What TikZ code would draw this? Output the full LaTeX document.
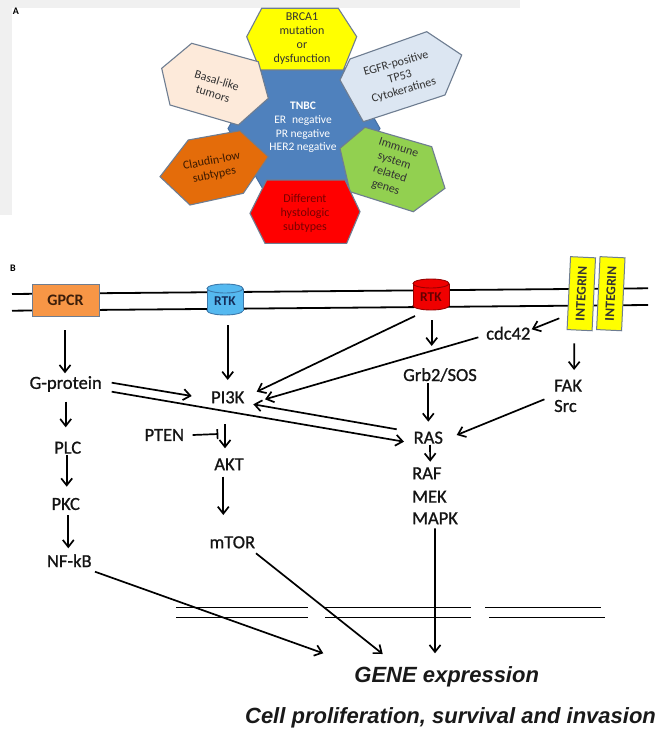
\documentclass[tikz,border=0pt]{standalone}
\usepackage{fontspec}
\setmainfont{Carlito}
\newfontfamily\labfont{Carlito}[FakeBold=0.9]
\newfontfamily\arialf{Liberation Sans}
\usetikzlibrary{arrows.meta,calc}
\definecolor{bandgray}{RGB}{240,240,240}
\definecolor{tnbcblue}{RGB}{79,129,189}
\definecolor{tnbcborder}{RGB}{70,110,160}
\definecolor{hexborder}{RGB}{110,125,145}
\definecolor{yellowhex}{RGB}{255,255,0}
\definecolor{peach}{RGB}{253,234,218}
\definecolor{egfrblue}{RGB}{220,230,242}
\definecolor{claudorange}{RGB}{228,108,10}
\definecolor{immgreen}{RGB}{146,208,80}
\definecolor{histred}{RGB}{255,0,0}
\definecolor{txtdark}{RGB}{50,50,50}
\definecolor{claudtext}{RGB}{60,25,0}
\definecolor{redtext}{RGB}{120,0,0}
\definecolor{gpcrorange}{RGB}{247,150,70}
\definecolor{boxborder}{RGB}{110,125,145}
\definecolor{gpcrtext}{RGB}{60,30,10}
\definecolor{rtkblue}{RGB}{85,185,240}
\definecolor{rtkblueborder}{RGB}{60,120,170}
\definecolor{rtkbluetext}{RGB}{20,45,90}
\definecolor{rtkred}{RGB}{240,0,0}
\definecolor{rtkredborder}{RGB}{150,0,0}
\definecolor{rtkredtext}{RGB}{100,0,0}
\definecolor{integyellow}{RGB}{255,255,0}
\begin{document}
\begin{tikzpicture}[x=1pt,y=-1pt,
  lbl/.style={font=\labfont\fontsize{18.5}{20}\selectfont, text=black!92, inner sep=0pt},
  arr/.style={line width=1.7pt, -{Straight Barb[length=7pt,width=11pt]}},
  inhib/.style={line width=1.7pt, -{Bar[width=10pt]}},
  memb/.style={line width=1.8pt},
  nucl/.style={line width=1.6pt},
  hexa/.style={draw=hexborder, line width=1.1pt},
  ptxt/.style={font=\fontsize{12}{14}\selectfont, align=center, text=txtdark, inner sep=0pt},
  panlbl/.style={font=\bfseries\fontsize{10}{10}\selectfont, inner sep=0pt},
  integ/.style={draw=boxborder, fill=integyellow, line width=1pt, rotate=87.3,
    minimum width=73pt, minimum height=25pt, inner sep=0pt,
    font=\bfseries\fontsize{13.5}{13.5}\selectfont, text=black!80},
  cylbox/.style={minimum width=36pt, minimum height=24pt, inner sep=0pt,
    font=\bfseries\fontsize{13.5}{13.5}\selectfont},
  big/.style={font=\arialf\bfseries\itshape\fontsize{22}{22}\selectfont, inner sep=0pt, text=black!90},
]
\useasboundingbox (0,0) rectangle (660,733);
\fill[white] (0,0) rectangle (660,733);
\fill[bandgray] (0,0) rectangle (520,8);
\fill[bandgray] (0,0) rectangle (12,215);

% ---------------- Panel A ----------------
\node[panlbl] (labA) at (16,11) {A};
\filldraw[fill=tnbcblue, draw=tnbcborder, line width=1pt]
  (380,128.5) -- (342,62.7) -- (266,62.7) -- (228,128.5) -- (266,194.3) -- (342,194.3) -- cycle;
% yellow
\filldraw[hexa, fill=yellowhex]
  (246.7,36.7) -- (261.7,8.3) -- (338.3,8.3) -- (356.7,36.7) -- (343.3,70) -- (260,70) -- cycle;
% peach
\filldraw[hexa, fill=peach]
  (161.7,68.3) -- (191.7,43.3) -- (258.3,61.7) -- (268.3,98.3) -- (238.3,125) -- (170,105) -- cycle;
% egfr
\filldraw[hexa, fill=egfrblue]
  (340,80) -- (350,59) -- (426.7,31.7) -- (461.7,55) -- (445,95) -- (363.3,121.7) -- cycle;
% claudin
\filldraw[hexa, fill=claudorange]
  (160,176.7) -- (188.3,140) -- (240,130.7) -- (268.3,156.7) -- (243.3,193.3) -- (190,205) -- cycle;
% immune
\filldraw[hexa, fill=immgreen]
  (340,148.3) -- (365,127.3) -- (431.7,146.7) -- (445,188.3) -- (413.3,211.7) -- (350,191.7) -- cycle;
% red
\filldraw[hexa, fill=histred]
  (250,213.3) -- (266.7,180) -- (345,180) -- (360,211.7) -- (346.7,243.3) -- (265,243.3) -- cycle;

\node[ptxt, text=white, font=\fontsize{11.5}{13.7}\selectfont] (tnbc) at (303,127.5)
  {\textbf{TNBC}\\ER\hspace{0.3em} negative\\PR negative\\HER2 negative};
\node[ptxt] (brca) at (302,38.5) {BRCA1\\mutation\\or\\dysfunction};
\node[ptxt, rotate=-17] (basal) at (215,87) {Basal-like\\tumors};
\node[ptxt, rotate=16] (egfr) at (400,77) {EGFR-positive\\TP53\\Cytokeratines};
\node[ptxt, rotate=11, text=claudtext] (claud) at (213,168) {Claudin-low\\subtypes};
\node[ptxt, rotate=-18] (immune) at (392,168) {Immune\\system\\related\\genes};
\node[ptxt, text=redtext] (hist) at (305,213) {Different\\hystologic\\subtypes};

% ---------------- Panel B ----------------
\node[panlbl] (labB) at (13,268) {B};
\draw[memb] (12,294) -- (648,288.3);
\draw[memb] (12,310.7) -- (648,305);

\node[draw=boxborder, fill=gpcrorange, line width=1pt, minimum width=67pt, minimum height=32pt,
  inner sep=0pt, font=\bfseries\fontsize{16}{16}\selectfont, text=gpcrtext] (gpcr) at (65.5,300) {GPCR\hspace{9pt}};

% blue RTK cylinder
\filldraw[fill=rtkblue, draw=rtkblueborder, line width=0.9pt] (225,310.5) ellipse [x radius=18, y radius=4.5];
\fill[rtkblue] (207,288.5) rectangle (243,310.5);
\draw[rtkblueborder, line width=0.9pt] (207,288.5) -- (207,310.5) (243,288.5) -- (243,310.5);
\filldraw[fill=rtkblue, draw=rtkblueborder, line width=0.9pt] (225,288.5) ellipse [x radius=18, y radius=4.5];
\node[cylbox, text=rtkbluetext] (rtk1) at (225,301) {RTK};

% red RTK cylinder
\filldraw[fill=rtkred, draw=rtkredborder, line width=0.9pt] (431,305.5) ellipse [x radius=18, y radius=4.5];
\fill[rtkred] (413,283.5) rectangle (449,305.5);
\draw[rtkredborder, line width=0.9pt] (413,283.5) -- (413,305.5) (449,283.5) -- (449,305.5);
\filldraw[fill=rtkred, draw=rtkredborder, line width=0.9pt] (431,283.5) ellipse [x radius=18, y radius=4.5];
\node[cylbox, text=rtkredtext] (rtk2) at (431,297) {RTK};

\node[integ] (int1) at (581.3,293.7) {INTEGRIN};
\node[integ] (int2) at (610.8,293.7) {INTEGRIN};

% labels
\node[lbl] (gprot) at (65.7,384) {G-protein};
\node[lbl] (pi3k) at (227.7,397.3) {PI3K};
\node[lbl] (cdc) at (508.3,333.3) {cdc42};
\node[lbl] (grb) at (440,375) {Grb2/SOS};
\node[lbl, anchor=west] (fak) at (554,385.7) {FAK};
\node[lbl, anchor=west] (src) at (554,406) {Src};
\node[lbl] (pten) at (164.3,435) {PTEN};
\node[lbl] (ras) at (428.3,437.7) {RAS};
\node[lbl] (plc) at (67.7,447.7) {PLC};
\node[lbl] (akt) at (229,464.3) {AKT};
\node[lbl, anchor=west] (raf) at (412,473.3) {RAF};
\node[lbl, anchor=west] (mek) at (412,496.7) {MEK};
\node[lbl, anchor=west] (mapk) at (412,518.3) {MAPK};
\node[lbl] (pkc) at (65.7,504) {PKC};
\node[lbl] (mtor) at (232.3,542.3) {mTOR};
\node[lbl] (nfkb) at (69.3,560.7) {NF-kB};

\node[big] (gene) at (446.7,676.7) {GENE expression};
\node[big] (cell) at (450.5,718.3) {Cell proliferation, survival and invasion};

% nuclear envelope
\draw[nucl] (176,607.3) -- (308.3,607.3) (176,617.3) -- (308.3,617.3);
\draw[nucl] (325,607.3) -- (470.5,607.3) (325,617.3) -- (470.5,617.3);
\draw[nucl] (485,607.3) -- (600.7,607.3) (489.3,617.3) -- (605,617.3);

% connectors
\draw[arr] ($(gpcr)+(-0.5,30)$) -- ($(gprot)+(-0.7,-10.7)$);
\draw[arr] ($(rtk1)+(2.7,24)$) -- ($(pi3k)+(0,-17.3)$);
\draw[arr] ($(gprot)+(46,-1.3)$) -- ($(pi3k)+(-36,-1.3)$);
\draw[arr] ($(gprot)+(46,7.7)$) -- ($(ras)+(-24.3,4)$);
\draw[arr] ($(ras)+(-31.6,-8.4)$) -- ($(pi3k)+(25.6,7)$);
\draw[arr] ($(rtk2)+(-16,19)$) -- ($(pi3k)+(29,-5.6)$);
\draw[arr] ($(cdc)+(-30,4)$) -- ($(pi3k)+(37.3,2)$);
\draw[arr] ($(rtk2)+(0.7,23)$) -- ($(grb)+(-8.3,-29)$);
\draw[arr] ($(int1)+(-22,24.6)$) -- ($(cdc)+(23.4,-4)$);
\draw[arr] ($(int1)+(-7,49.6)$) -- ($(fak)+(6,-15.7)$);
\draw[arr] ($(src)+(-21,-6.7)$) -- ($(ras)+(28.4,-2.7)$);
\draw[arr] ($(grb)+(-11.7,8.3)$) -- ($(ras)+(0,-16)$);
\draw[arr] ($(ras)+(1.7,7.3)$) -- ($(raf)+(3.4,-11.6)$);
\draw[arr] ($(mapk)+(0,10)$) -- ($(gene)+(-11.7,-23.4)$);
\draw[arr] ($(mtor)+(23.7,11)$) -- ($(gene)+(-64,-22.7)$);
\draw[arr] ($(nfkb)+(25.7,11)$) -- ($(gene)+(-123.4,-23.4)$);
\draw[arr] ($(gprot)+(0,17.7)$) -- ($(plc)+(-2,-20.4)$);
\draw[arr] ($(plc)+(-1,7.3)$) -- ($(pkc)+(1,-17.3)$);
\draw[arr] ($(pkc)+(2.6,11)$) -- ($(nfkb)+(-1,-12.4)$);
\draw[arr] ($(pi3k)+(-2.7,26.7)$) -- ($(akt)+(-4,-16)$);
\coordinate (inhpt) at ($(akt)+(-10.7,-30.3)$);
\draw[inhib] ($(pten)+(28.4,0)$) -- (inhpt);
\draw[arr] ($(akt)+(-5.7,12.4)$) -- ($(mtor)+(-9,-27.3)$);
\end{tikzpicture}
\end{document}
